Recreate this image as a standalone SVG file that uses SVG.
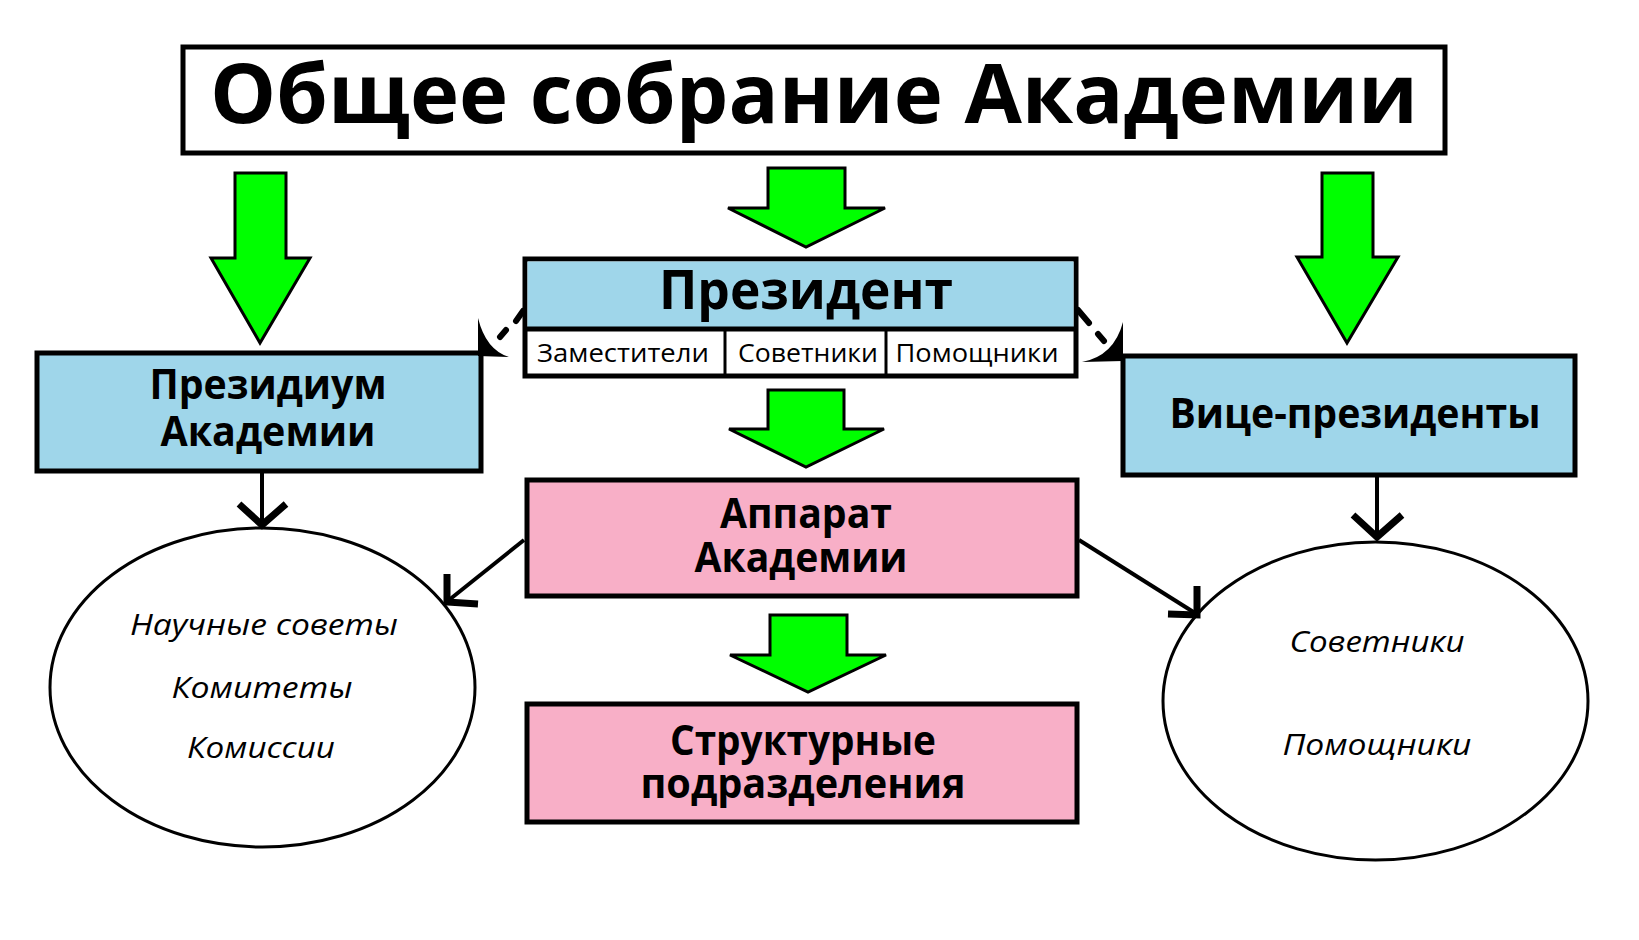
<svg xmlns="http://www.w3.org/2000/svg" width="1639" height="940" viewBox="0 0 1639 940">
<style>
.box{stroke:#000;stroke-width:5}
.blue{fill:#9fd6ea}
.pink{fill:#f8afc7}
.green{fill:#00ff00;stroke:#000;stroke-width:3;stroke-linejoin:miter}
.t{font-family:"Open Sans","Liberation Sans",sans-serif;font-weight:bold;fill:#000;text-anchor:middle}
.s{font-family:"Open Sans","Liberation Sans",sans-serif;fill:#000;text-anchor:middle;font-size:26px}
.i{font-family:"Open Sans","Liberation Sans",sans-serif;font-style:italic;fill:#000;text-anchor:middle;font-size:29px}
.ln{stroke:#000;stroke-width:4;fill:none}
.hd{stroke:#000;stroke-width:7;fill:none;stroke-linejoin:miter;stroke-linecap:butt}
.dash{stroke:#000;stroke-width:6;stroke-linecap:round}
</style>
<rect width="1639" height="940" fill="#fff"/>

<g id="general-assembly">
<rect x="183" y="47" width="1262" height="106" fill="#fff" class="box"/>
<text class="t" x="814" y="123" font-size="82" textLength="1208" lengthAdjust="spacingAndGlyphs">Общее собрание Академии</text>
</g>

<g id="president">
<rect x="525" y="259" width="551" height="117" fill="#fff" class="box"/>
<rect x="527.5" y="261.5" width="546" height="67.5" class="blue"/>
<line x1="525" y1="329" x2="1076" y2="329" stroke="#000" stroke-width="5"/>
<line x1="725" y1="329" x2="725" y2="376" stroke="#000" stroke-width="3"/>
<line x1="886" y1="329" x2="886" y2="376" stroke="#000" stroke-width="3"/>
<text class="t" x="806" y="309" font-size="54" textLength="294" lengthAdjust="spacingAndGlyphs">Президент</text>
<text class="s" x="623" y="362" textLength="172" lengthAdjust="spacingAndGlyphs">Заместители</text>
<text class="s" x="808" y="362" textLength="140" lengthAdjust="spacingAndGlyphs">Советники</text>
<text class="s" x="977" y="362" textLength="163" lengthAdjust="spacingAndGlyphs">Помощники</text>
</g>

<g id="presidium">
<rect x="37" y="353" width="444" height="118" class="box blue"/>
<text class="t" x="268" y="399" font-size="41" textLength="237" lengthAdjust="spacingAndGlyphs">Президиум</text>
<text class="t" x="268" y="446" font-size="41" textLength="215" lengthAdjust="spacingAndGlyphs">Академии</text>
</g>

<g id="vice-presidents">
<rect x="1123" y="356" width="452" height="119" class="box blue"/>
<text class="t" x="1355" y="428" font-size="42" textLength="371" lengthAdjust="spacingAndGlyphs">Вице-президенты</text>
</g>

<g id="apparatus">
<rect x="527" y="480" width="550" height="116" class="box pink"/>
<text class="t" x="806" y="528" font-size="41" textLength="172" lengthAdjust="spacingAndGlyphs">Аппарат</text>
<text class="t" x="801" y="572" font-size="41" textLength="213" lengthAdjust="spacingAndGlyphs">Академии</text>
</g>

<g id="structural-units">
<rect x="527" y="704" width="550" height="118" class="box pink"/>
<text class="t" x="803" y="755" font-size="41" textLength="266" lengthAdjust="spacingAndGlyphs">Структурные</text>
<text class="t" x="803" y="798" font-size="41" textLength="325" lengthAdjust="spacingAndGlyphs">подразделения</text>
</g>

<g id="presidium-bodies">
<ellipse cx="262.5" cy="687.5" rx="212.5" ry="159.5" fill="#fff" stroke="#000" stroke-width="3"/>
<text class="i" x="264" y="635" textLength="268" lengthAdjust="spacingAndGlyphs">Научные советы</text>
<text class="i" x="262" y="698" textLength="181" lengthAdjust="spacingAndGlyphs">Комитеты</text>
<text class="i" x="261" y="758" textLength="148" lengthAdjust="spacingAndGlyphs">Комиссии</text>
</g>

<g id="vp-staff">
<ellipse cx="1375.5" cy="701" rx="212.5" ry="159" fill="#fff" stroke="#000" stroke-width="3"/>
<text class="i" x="1377" y="652" textLength="175" lengthAdjust="spacingAndGlyphs">Советники</text>
<text class="i" x="1377" y="755" textLength="189" lengthAdjust="spacingAndGlyphs">Помощники</text>
</g>

<g id="connectors">
<polygon class="green" points="235,173 286,173 286,258 310,258 260,343 211,258 235,258"/>
<polygon class="green" points="768,168 845,168 845,208 885,208 806,247 728,208 768,208"/>
<polygon class="green" points="1322,173 1373,173 1373,257 1398,257 1347,343 1297,257 1322,257"/>
<polygon class="green" points="768,390 844,390 844,429 884,429 806,467 729,429 768,429"/>
<polygon class="green" points="770,615 847,615 847,655 886,655 808,692 730,655 770,655"/>

<line class="ln" x1="262" y1="473" x2="262" y2="524"/>
<polyline class="hd" points="239,504 262,525 286,504"/>
<line class="ln" x1="1377" y1="477" x2="1377" y2="536"/>
<polyline class="hd" points="1353,515 1377,537 1402,515"/>

<line class="ln" x1="524" y1="540" x2="449" y2="600"/>
<polyline class="hd" points="447,574 447,602 478,604"/>
<line class="ln" x1="1079" y1="540" x2="1195" y2="613"/>
<polyline class="hd" points="1197,586 1197,615 1168,614"/>

<line class="dash" x1="523" y1="311" x2="516" y2="321"/>
<line class="dash" x1="506" y1="330" x2="500" y2="337"/>
<path d="M478 318 L478 356 L509 357 Q486 350 478 318 Z" fill="#000"/>
<line class="dash" x1="1078" y1="310" x2="1089" y2="323"/>
<line class="dash" x1="1098" y1="334" x2="1104" y2="341"/>
<path d="M1123 322 L1123 361 L1082 362 Q1114 356 1123 322 Z" fill="#000"/>
</g>
</svg>
